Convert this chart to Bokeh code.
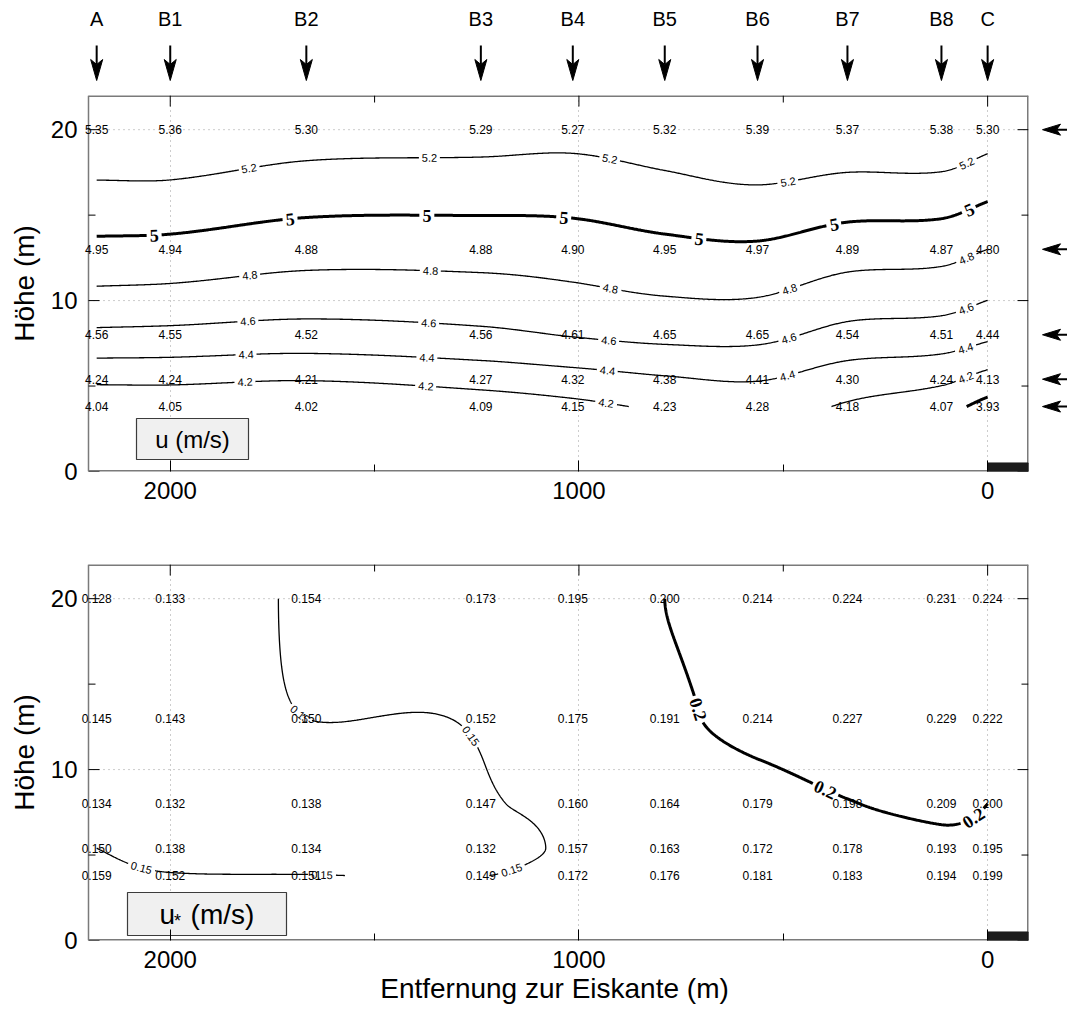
import math
import numpy as np
import contourpy
from bokeh.plotting import figure
from bokeh.layouts import column, row
from bokeh.models import Range1d, FixedTicker
from bokeh.core.properties import value
from bokeh.embed import file_html
from bokeh.resources import INLINE

# Stations along the transect and their distance to the ice edge (m)
stations = ["A", "B1", "B2", "B3", "B4", "B5", "B6", "B7", "B8", "C"]
station_dist = [2180, 2000, 1667, 1240, 1015, 790, 563, 343, 113, 0]
# Measurement heights (m)
heights = [20, 13, 8, 5.4, 3.8]

# Wind speed u (m/s) at each height, stations A .. C
u_z20 = [5.35, 5.36, 5.30, 5.29, 5.27, 5.32, 5.39, 5.37, 5.38, 5.30]
u_z13 = [4.95, 4.94, 4.88, 4.88, 4.90, 4.95, 4.97, 4.89, 4.87, 4.80]
u_z8 = [4.56, 4.55, 4.52, 4.56, 4.61, 4.65, 4.65, 4.54, 4.51, 4.44]
u_z54 = [4.24, 4.24, 4.21, 4.27, 4.32, 4.38, 4.41, 4.30, 4.24, 4.13]
u_z38 = [4.04, 4.05, 4.02, 4.09, 4.15, 4.23, 4.28, 4.18, 4.07, 3.93]

# Friction velocity u* (m/s) at each height, stations A .. C
ustar_z20 = [0.128, 0.133, 0.154, 0.173, 0.195, 0.200, 0.214, 0.224, 0.231, 0.224]
ustar_z13 = [0.145, 0.143, 0.150, 0.152, 0.175, 0.191, 0.214, 0.227, 0.229, 0.222]
ustar_z8 = [0.134, 0.132, 0.138, 0.147, 0.160, 0.164, 0.179, 0.198, 0.209, 0.200]
ustar_z54 = [0.150, 0.138, 0.134, 0.132, 0.157, 0.163, 0.172, 0.178, 0.193, 0.195]
ustar_z38 = [0.159, 0.152, 0.151, 0.149, 0.172, 0.176, 0.181, 0.183, 0.194, 0.199]

u_levels = [4.0, 4.2, 4.4, 4.6, 4.8, 5.0, 5.2]
u_major_levels = [4.0, 5.0]
ustar_levels = [0.15, 0.2]
ustar_major_levels = [0.2]

# Ice strip beyond the edge
ice_x = [0, -100]
ice_top = 0.5

x_ticks = [0, 1000, 2000]
x_minor = [500, 1500]
y_ticks = [0, 10, 20]
y_minor = [5, 15]

# Geometry (pixels). The drawn box spans X0..X1; the canvas frame reaches a
# few pixels further left so the values of the first station are not cut.
X0, X1 = 2200, -100
Y1 = 22
FW, FH = 940, 376
LEFT = 88
PAD = 8
SX = FW / (X0 - X1)
SY = FH / Y1
XR = X0 + PAD / SX
HEADER_H = 93
FONT = "Liberation Sans"
SERIF = "Liberation Serif"
FRAME_GREY = "#7a7a7a"


def hermite_eval(xk, yk, d, xq):
    h = np.diff(xk)
    idx = np.clip(np.searchsorted(xk, xq) - 1, 0, len(xk) - 2)
    t = (xq - xk[idx]) / h[idx]
    h00 = 2 * t ** 3 - 3 * t ** 2 + 1
    h10 = t ** 3 - 2 * t ** 2 + t
    h01 = -2 * t ** 3 + 3 * t ** 2
    h11 = t ** 3 - t ** 2
    return (h00 * yk[idx] + h10 * h[idx] * d[idx]
            + h01 * yk[idx + 1] + h11 * h[idx] * d[idx + 1])


def cardinal(xk, yk, xq):
    """Cubic Hermite curve with central-difference slopes."""
    xk = np.asarray(xk, float)
    yk = np.asarray(yk, float)
    d = np.empty(len(xk))
    d[1:-1] = (yk[2:] - yk[:-2]) / (xk[2:] - xk[:-2])
    d[0] = (yk[1] - yk[0]) / (xk[1] - xk[0])
    d[-1] = (yk[-1] - yk[-2]) / (xk[-1] - xk[-2])
    return hermite_eval(xk, yk, d, xq)


def pchip(xk, yk, xq):
    """Shape-preserving piecewise cubic (Fritsch-Carlson)."""
    xk = np.asarray(xk, float)
    yk = np.asarray(yk, float)
    n = len(xk)
    h = np.diff(xk)
    delta = np.diff(yk) / h
    d = np.zeros(n)
    for k in range(1, n - 1):
        if delta[k - 1] * delta[k] > 0:
            w1 = 2 * h[k] + h[k - 1]
            w2 = h[k] + 2 * h[k - 1]
            d[k] = (w1 + w2) / (w1 / delta[k - 1] + w2 / delta[k])

    def end_slope(h0, h1, d0, d1):
        s = ((2 * h0 + h1) * d0 - h0 * d1) / (h0 + h1)
        if np.sign(s) != np.sign(d0):
            s = 0.0
        elif np.sign(d0) != np.sign(d1) and abs(s) > abs(3 * d0):
            s = 3 * d0
        return s

    d[0] = end_slope(h[0], h[1], delta[0], delta[1])
    d[-1] = end_slope(h[-1], h[-2], delta[-1], delta[-2])
    return hermite_eval(xk, yk, d, xq)


def text_width(s, size, serif=False):
    w = 0.0
    for ch in s:
        if ch == ".":
            w += 0.25 if serif else 0.278
        else:
            w += 0.5 if serif else 0.556
    return w * size


def fmt_level(v):
    return "%g" % v


def add_contours(p, rows, levels, majors, thin_spacing, thick_spacing):
    xs = np.array(station_dist[::-1], float)
    zs = np.array(heights[::-1], float)
    V = np.array(rows, float)[::-1, ::-1]
    xf = np.linspace(xs[0], xs[-1], 600)
    zf = np.linspace(zs[0], zs[-1], 400)
    F1 = np.array([cardinal(xs, V[i], xf) for i in range(len(zs))])
    F = np.array([pchip(zs, F1[:, j], zf) for j in range(len(xf))]).T
    gen = contourpy.contour_generator(xf, zf, F)

    for lev in levels:
        major = any(abs(lev - m) < 1e-9 for m in majors)
        label = fmt_level(lev)
        if major:
            fsize, spacing, end_off = 18, thick_spacing, 20
            tw = text_width(label, fsize, serif=True)
        else:
            fsize, spacing, end_off = 11, thin_spacing, 23
            tw = text_width(label, fsize)
        hw = tw / 2 + 2.5
        line_xs, line_ys = [], []
        lx, ly, lang = [], [], []
        for path in gen.lines(lev):
            path = np.asarray(path)
            px = (X0 - path[:, 0]) * SX
            py = path[:, 1] * SY
            if px[0] > px[-1]:
                px, py = px[::-1], py[::-1]
            s = np.concatenate([[0.0], np.cumsum(np.hypot(np.diff(px), np.diff(py)))])
            L = s[-1]
            if L < 1:
                continue
            ss = np.linspace(0, L, int(L) + 2)
            X = np.interp(ss, s, px)
            Y = np.interp(ss, s, py)
            pos = []
            if L >= 30:
                sk = L - end_off
                while sk > hw * 0.8:
                    pos.append(sk)
                    sk -= spacing
                if not pos:
                    pos = [L / 2]
            keep = np.ones(len(ss), bool)
            for sk in pos:
                keep &= np.abs(ss - sk) > hw
                a0, a1 = max(sk - 4, 0), min(sk + 4, L)
                dx = np.interp(a1, ss, X) - np.interp(a0, ss, X)
                dy = np.interp(a1, ss, Y) - np.interp(a0, ss, Y)
                ang = math.atan2(dy, dx)
                if ang > math.pi / 2:
                    ang -= math.pi
                elif ang < -math.pi / 2:
                    ang += math.pi
                lx.append(X0 - np.interp(sk, ss, X) / SX)
                ly.append(np.interp(sk, ss, Y) / SY)
                lang.append(ang)
            Xd = X0 - X / SX
            Yd = Y / SY
            Xd[~keep] = np.nan
            Yd[~keep] = np.nan
            line_xs.append(Xd)
            line_ys.append(Yd)
        if line_xs:
            p.multi_line(xs=line_xs, ys=line_ys, line_color="black",
                         line_width=3.0 if major else 1.3)
        if lx:
            p.text(x=lx, y=ly, text=[label] * len(lx), angle=lang,
                   text_align="center", text_baseline="middle",
                   text_font=value(SERIF if major else FONT),
                   text_font_style="bold" if major else "normal",
                   text_font_size="%dpx" % fsize, text_color="black")


GLYPH_W = {"u": 0.556, " ": 0.278, "(": 0.333, ")": 0.333, "m": 0.833,
           "/": 0.278, "s": 0.5}


def add_box(p, pieces, box_px, box_size):
    """Grey caption box; pieces are (text, font size, advance or None, drop px)."""
    bx = X0 - box_px[0] / SX
    by = box_px[1] / SY
    p.rect(x=[bx], y=[by], width=[box_size[0]], height=[box_size[1]],
           width_units="screen", height_units="screen",
           fill_color="#f0f0f0", line_color="#3c3c3c", line_width=1.2)
    widths = []
    for t, fs, adv, _ in pieces:
        if adv is None:
            adv = sum(GLYPH_W.get(ch, 0.556) for ch in t) * fs
        widths.append(adv)
    x_off = -sum(widths) / 2
    for (t, fs, _, drop), w in zip(pieces, widths):
        p.text(x=[bx], y=[by], text=[t], x_offset=[x_off], y_offset=[drop],
               text_align="left", text_baseline="middle",
               text_font=value(FONT), text_font_size="%dpx" % fs,
               text_color="black")
        x_off += w


def make_panel(rows, val_fmt, levels, majors, thin_spacing, thick_spacing,
               box_pieces, box_px, box_size, border_top, border_bottom, border_right,
               xlabel=None):
    p = figure(width=LEFT - PAD + PAD + FW + border_right,
               height=border_top + FH + border_bottom,
               frame_width=FW + PAD, frame_height=FH,
               x_range=Range1d(XR, X1), y_range=Range1d(0, Y1),
               output_backend="svg", toolbar_location=None,
               min_border_left=LEFT - PAD, min_border_right=border_right,
               min_border_top=border_top, min_border_bottom=border_bottom)
    p.outline_line_color = None
    p.background_fill_color = "white"
    p.border_fill_color = "white"

    # dotted grid inside the box
    p.xgrid.ticker = FixedTicker(ticks=x_ticks)
    p.xgrid.grid_line_color = "#9a9a9a"
    p.xgrid.grid_line_dash = "1 4"
    p.ygrid.visible = False
    gy = [t for t in y_ticks if t > 0]
    p.segment(x0=[X0] * len(gy), x1=[X1] * len(gy), y0=gy, y1=gy,
              line_color="#9a9a9a", line_dash="1 4", line_width=1)

    p.xaxis.ticker = FixedTicker(ticks=x_ticks, minor_ticks=x_minor)
    p.yaxis.ticker = FixedTicker(ticks=y_ticks, minor_ticks=y_minor)
    for ax in (p.xaxis[0], p.yaxis[0]):
        ax.axis_line_color = None
        ax.major_tick_out = 0
        ax.minor_tick_out = 0
        ax.major_tick_line_color = "black"
        ax.minor_tick_line_color = "black"
        ax.major_label_text_font = FONT
        ax.major_label_text_font_size = "24px"
        ax.major_label_text_color = "black"
        ax.axis_label_text_font = FONT
        ax.axis_label_text_font_size = "28px"
        ax.axis_label_text_font_style = "normal"
        ax.axis_label_text_color = "black"
    p.xaxis.major_tick_in = 11
    p.xaxis.minor_tick_in = 7
    p.yaxis.major_tick_in = 0
    p.yaxis.minor_tick_in = 0
    p.xaxis.major_label_standoff = 10
    p.yaxis.major_label_standoff = PAD - 5
    p.yaxis.axis_label = "Höhe (m)"
    p.yaxis.axis_label_standoff = 8
    if xlabel:
        p.xaxis.axis_label = xlabel
        p.xaxis.axis_label_standoff = 2

    # box outline
    p.segment(x0=[X0], x1=[X0], y0=[0], y1=[Y1], line_color=FRAME_GREY, line_width=1.5)
    p.segment(x0=[X0, X0, X1], x1=[X1, X1, X1], y0=[0, Y1, 0], y1=[0, Y1, Y1],
              line_color=FRAME_GREY, line_width=3)

    # tick marks on the left, top and right edges of the box
    for ticks, ln in ((x_ticks, 11), (x_minor, 7)):
        p.segment(x0=ticks, x1=ticks, y0=[Y1] * len(ticks),
                  y1=[Y1 - ln / SY] * len(ticks), line_color="black", line_width=1)
    for ticks, ln in ((y_ticks, 11), (y_minor, 7)):
        p.segment(x0=[X1] * len(ticks), x1=[X1 + ln / SX] * len(ticks),
                  y0=ticks, y1=ticks, line_color="black", line_width=1)
        p.segment(x0=[X0] * len(ticks), x1=[X0 - ln / SX] * len(ticks),
                  y0=ticks, y1=ticks, line_color="black", line_width=1)

    add_contours(p, rows, levels, majors, thin_spacing, thick_spacing)

    # station values
    vx, vy, vt = [], [], []
    for z, r in zip(heights, rows):
        for x, v in zip(station_dist, r):
            vx.append(x)
            vy.append(z)
            vt.append(val_fmt % v)
    p.text(x=vx, y=vy, text=vt, text_align="center", text_baseline="middle",
           text_font=value(FONT), text_font_size="12px", text_color="black")

    # ice strip
    p.quad(left=[ice_x[0]], right=[ice_x[1]], bottom=[0], top=[ice_top],
           color="#1c1c1c")

    add_box(p, box_pieces, box_px, box_size)
    return p


def bare_figure(width, height, x_range, y_range, left, right, top, bottom):
    f = figure(width=width, height=height, x_range=x_range, y_range=y_range,
               frame_width=width - left - right, frame_height=height - top - bottom,
               min_border_left=left, min_border_right=right,
               min_border_top=top, min_border_bottom=bottom,
               x_axis_location=None, y_axis_location=None,
               output_backend="svg", toolbar_location=None)
    f.outline_line_color = None
    f.grid.visible = False
    f.background_fill_color = "white"
    f.border_fill_color = "white"
    return f


top = make_panel([u_z20, u_z13, u_z8, u_z54, u_z38], "%.2f",
                 u_levels, u_major_levels, 181, 137,
                 [("u (m/s)", 24, None, 0)], (104, 32.5), (112, 41), 2, 48, 2)

# header: station markers above the upper panel (y in pixels from its bottom)
header = bare_figure(1067, HEADER_H, top.x_range, Range1d(0, HEADER_H),
                     LEFT - PAD, 1067 - LEFT - FW, 0, 0)
tip_y, shaft_y, name_y = 13, 48, 75
head_len, head_notch, head_half = 21, 16, 6
hx = [[x, x - head_half / SX, x, x + head_half / SX] for x in station_dist]
hy = [[tip_y, tip_y + head_len, tip_y + head_notch, tip_y + head_len]] * len(stations)
header.segment(x0=station_dist, x1=station_dist,
               y0=[shaft_y] * len(stations), y1=[tip_y + head_notch] * len(stations),
               line_color="black", line_width=2)
header.patches(xs=hx, ys=hy, fill_color="black", line_color="black", line_width=1)
header.text(x=station_dist, y=[name_y] * len(stations), text=stations,
            text_align="center", text_baseline="middle", text_font=value(FONT),
            text_font_size="20px", text_color="black")

# side strip: measurement heights marked with arrows right of the upper panel
STRIP_W = 1067 - (LEFT + FW + 2)
side = bare_figure(STRIP_W, 2 + FH + 48, Range1d(0, STRIP_W), top.y_range,
                   0, 0, 2, 48)
s_tip, s_len, s_notch, s_half = 12, 18, 14, 5.5
sx = [[s_tip, s_tip + s_len, s_tip + s_notch, s_tip + s_len]] * len(heights)
sy = [[z, z + s_half / SY, z, z - s_half / SY] for z in heights]
side.segment(x0=[s_tip + s_notch] * len(heights), x1=[STRIP_W + 2] * len(heights),
             y0=heights, y1=heights, line_color="black", line_width=2)
side.patches(xs=sx, ys=sy, fill_color="black", line_color="black", line_width=1)

bottom = make_panel([ustar_z20, ustar_z13, ustar_z8, ustar_z54, ustar_z38], "%.3f",
                    ustar_levels, ustar_major_levels, 181, 155,
                    [("u", 28, 14.5, 0), ("*", 18, 16.5, 7), ("(m/s)", 28, None, 0)],
                    (118.5, 26.5), (159, 43), 45, 70, 1067 - LEFT - FW,
                    xlabel="Entfernung zur Eiskante (m)")

layout = column(header, row(top, side, spacing=0), bottom, spacing=0)
open("out.html", "w").write(file_html(layout, INLINE))
